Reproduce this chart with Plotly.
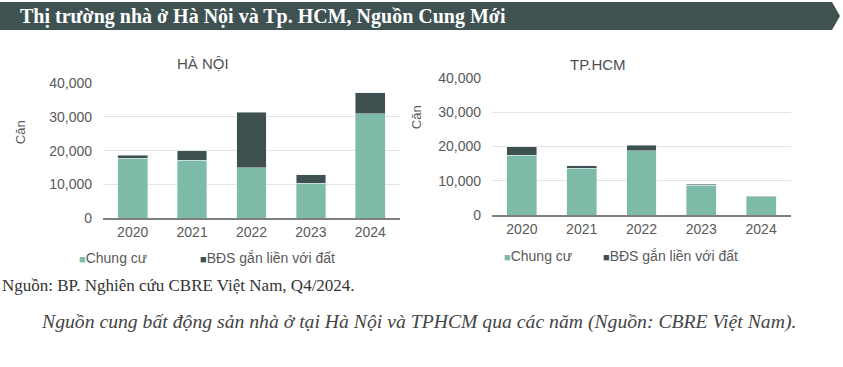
import plotly.graph_objects as go

years = ["2020", "2021", "2022", "2023", "2024"]
hn_chung_cu = [17800, 17200, 15000, 10300, 31000]
hn_dat = [900, 2800, 16400, 2550, 6200]
hcm_chung_cu = [17450, 13650, 18800, 8700, 5400]
hcm_dat = [2450, 700, 1550, 280, 80]

series_names = ["Chung cư", "BĐS gắn liền với đất"]
c_cc = "#7dbaa7"
c_dat = "#3e504f"
txt = "#595959"

fig = go.Figure()
fig.add_trace(go.Bar(x=years, y=hn_chung_cu, name=series_names[0], marker_color=c_cc,
                     xaxis="x", yaxis="y", showlegend=False))
fig.add_trace(go.Bar(x=years, y=hn_dat, name=series_names[1], marker_color=c_dat,
                     xaxis="x", yaxis="y", showlegend=False))
fig.add_trace(go.Bar(x=years, y=hcm_chung_cu, name=series_names[0], marker_color=c_cc,
                     xaxis="x2", yaxis="y2", showlegend=False))
fig.add_trace(go.Bar(x=years, y=hcm_dat, name=series_names[1], marker_color=c_dat,
                     xaxis="x2", yaxis="y2", showlegend=False))

W, H = 843, 367
def px(x): return x / W
def py(y):
    # compensate the observed vertical capture mapping (obs = 9 + 0.955 * y)
    return 1 - ((y - 9) / 0.955) / H

axfont = dict(family="Liberation Sans, Arial", size=14, color=txt)
yax = dict(range=[0, 40000], tickvals=[0, 10000, 20000, 30000, 40000], tickformat=",",
           showgrid=True, gridcolor="#e3e3e3", gridwidth=1, zeroline=False,
           showline=False, ticks="", tickfont=axfont, ticklabelstandoff=10, fixedrange=True)
xax = dict(showline=True, linecolor="#7f7f7f", linewidth=1.5, ticks="", tickfont=axfont,
           showgrid=False, fixedrange=True)

fig.update_layout(
    width=W, height=H, margin=dict(l=0, r=0, t=0, b=0),
    paper_bgcolor="white", plot_bgcolor="white",
    barmode="stack", bargap=0.5,
    xaxis=dict(domain=[px(103), px(400)], anchor="y", **xax),
    yaxis=dict(domain=[py(219), py(84)], anchor="x", **yax),
    xaxis2=dict(domain=[px(492), px(791)], anchor="y2", **xax),
    yaxis2=dict(domain=[py(215.7), py(79)], anchor="x2", **yax),
)

# header banner
fig.add_shape(type="path", xref="paper", yref="paper",
              path=f"M 0 {py(3)} L {px(832)} {py(3)} L {px(840)} {py(17)} L {px(832)} {py(31)} L 0 {py(31)} Z",
              fillcolor="#3f5252", line=dict(width=0), layer="below")

ann = []
ann.append(dict(text="<b>Thị trường nhà ở Hà Nội và Tp. HCM, Nguồn Cung Mới</b>",
                x=px(18), y=py(17), xanchor="left", yanchor="middle",
                font=dict(family="Liberation Serif", size=20, color="white")))
ann.append(dict(text="HÀ NỘI", x=px(203), y=py(64), xanchor="center", yanchor="middle",
                font=dict(family="Liberation Sans", size=15, color="#505050")))
ann.append(dict(text="TP.HCM", x=px(598), y=py(65), xanchor="center", yanchor="middle",
                font=dict(family="Liberation Sans", size=15, color="#505050")))
ann.append(dict(text="Căn", x=px(20), y=py(133), xanchor="center", yanchor="middle", textangle=-90,
                font=dict(family="Liberation Sans", size=13, color=txt)))
ann.append(dict(text="Căn", x=px(416), y=py(118), xanchor="center", yanchor="middle", textangle=-90,
                font=dict(family="Liberation Sans", size=13, color=txt)))

legend_pos = [(77, 198, 259), (502, 601, 257)]
for x1, x2, yy in legend_pos:
    for xx, name, col in [(x1, series_names[0], c_cc), (x2, series_names[1], c_dat)]:
        ann.append(dict(text=f"<span style='color:{col};font-size:11px'>■</span>{name}", x=px(xx), y=py(yy),
                        xanchor="left", yanchor="middle",
                        font=dict(family="Liberation Sans", size=14, color=txt)))

ann.append(dict(text="Nguồn: BP. Nghiên cứu CBRE Việt Nam, Q4/2024.", x=0, y=py(286),
                xanchor="left", yanchor="middle",
                font=dict(family="Liberation Serif", size=17, color="#333333")))
ann.append(dict(text="<i>Nguồn cung bất động sản nhà ở tại Hà Nội và TPHCM qua các năm (Nguồn: CBRE Việt Nam).</i>",
                x=px(418.5), y=py(322), xanchor="center", yanchor="middle",
                font=dict(family="Liberation Serif", size=19.7, color="#444444")))

for a in ann:
    a.update(xref="paper", yref="paper", showarrow=False)
fig.update_layout(annotations=ann)

post = ("var s=document.createElement('style');"
        "s.innerHTML='html,body{margin:0!important;padding:0!important;overflow:hidden;}';"
        "document.head.appendChild(s);")
fig.write_html("out.html", config={"displayModeBar": False}, post_script=post)
